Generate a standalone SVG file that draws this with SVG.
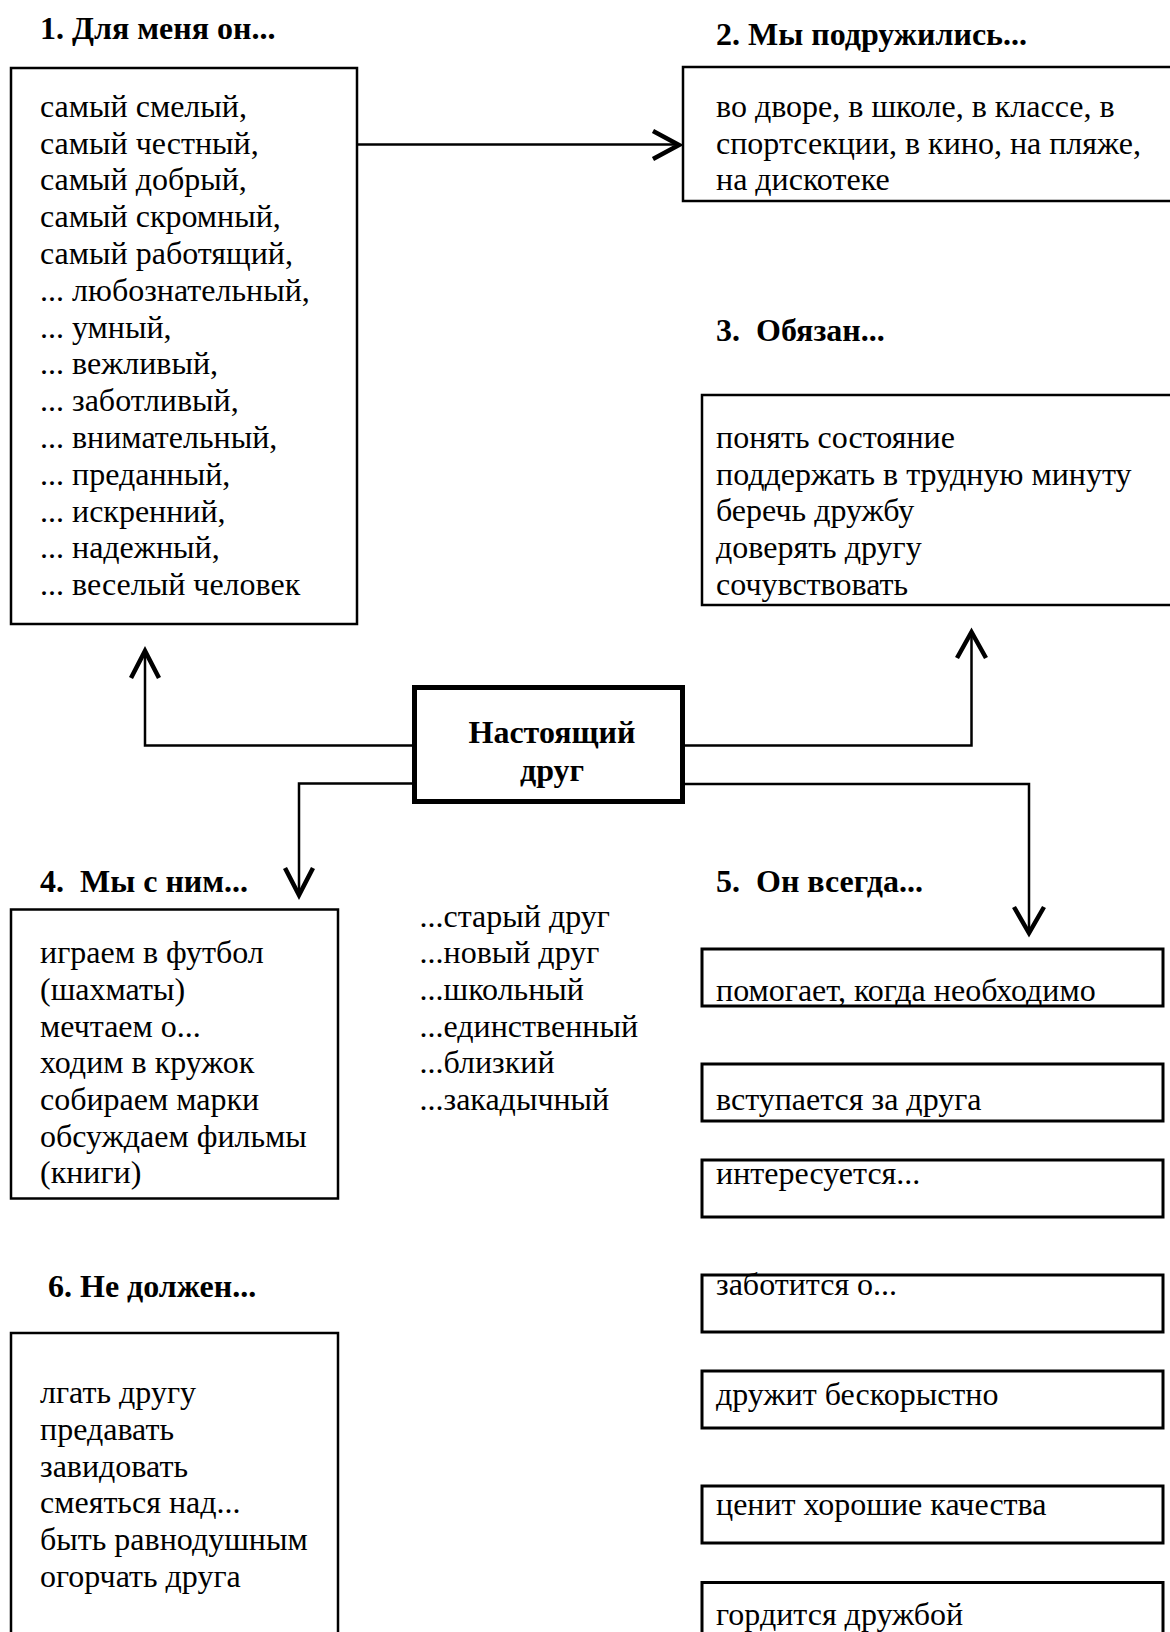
<svg xmlns="http://www.w3.org/2000/svg" width="1170" height="1632" viewBox="0 0 1170 1632">
<style>
.t{font-family:"Liberation Serif","Times New Roman",serif;font-size:32px;fill:#000}
.h{font-family:"Liberation Serif","Times New Roman",serif;font-size:32px;font-weight:bold;fill:#000;white-space:pre}
.box{fill:#fff;stroke:#000;stroke-width:2.5}
.box5{fill:#fff;stroke:#000;stroke-width:3}
.ln{fill:none;stroke:#000;stroke-width:2.5}
.ch{fill:none;stroke:#000;stroke-width:4.5;stroke-linejoin:miter}
</style>
<rect width="1170" height="1632" fill="#fff"/>
<g id="connectors">
<line class="ln" x1="357" y1="144.5" x2="677" y2="144.5"/>
<path class="ch" d="M653,131 L679,145 L653,159"/>
<path class="ln" d="M412,745.5 H145 V651"/>
<path class="ch" d="M131,678 L145,651 L159,678"/>
<path class="ln" d="M412,783.5 H299 V895"/>
<path class="ch" d="M285,868 L299,895 L313,868"/>
<path class="ln" d="M685,745.5 H971.5 V632"/>
<path class="ch" d="M957,658 L971.5,632 L986,658"/>
<path class="ln" d="M685,784 H1029 V933"/>
<path class="ch" d="M1014,907 L1029,933 L1044,907"/>
</g>
<g id="title1"><text class="h" x="40" y="39">1. Для меня он...</text></g>
<g id="box1">
<rect class="box" x="11" y="68" width="346" height="556"/>
<text class="t" x="40" y="116.7">самый смелый,</text>
<text class="t" x="40" y="153.5">самый честный,</text>
<text class="t" x="40" y="190.3">самый добрый,</text>
<text class="t" x="40" y="227.1">самый скромный,</text>
<text class="t" x="40" y="263.9">самый работящий,</text>
<text class="t" x="40" y="300.7">... любознательный,</text>
<text class="t" x="40" y="337.5">... умный,</text>
<text class="t" x="40" y="374.3">... вежливый,</text>
<text class="t" x="40" y="411.1">... заботливый,</text>
<text class="t" x="40" y="447.9">... внимательный,</text>
<text class="t" x="40" y="484.7">... преданный,</text>
<text class="t" x="40" y="521.5">... искренний,</text>
<text class="t" x="40" y="558.3">... надежный,</text>
<text class="t" x="40" y="595.1">... веселый человек</text>
</g>
<g id="title2"><text class="h" x="716" y="44.5">2. Мы подружились...</text></g>
<g id="box2">
<rect class="box" x="683" y="67" width="500" height="134"/>
<text class="t" x="716" y="116.7">во дворе, в школе, в классе, в</text>
<text class="t" x="716" y="153.5">спортсекции, в кино, на пляже,</text>
<text class="t" x="716" y="190.3">на дискотеке</text>
</g>
<g id="title3"><text class="h" x="716" y="341">3.  Обязан...</text></g>
<g id="box3">
<rect class="box" x="702" y="395" width="480" height="210"/>
<text class="t" x="716" y="447.7">понять состояние</text>
<text class="t" x="716" y="484.5">поддержать в трудную минуту</text>
<text class="t" x="716" y="521.3">беречь дружбу</text>
<text class="t" x="716" y="558.1">доверять другу</text>
<text class="t" x="716" y="594.9">сочувствовать</text>
</g>
<g id="center">
<rect x="414.5" y="687.5" width="268" height="114" fill="#fff" stroke="#000" stroke-width="5"/>
<text class="h" x="552" y="742.5" text-anchor="middle">Настоящий</text>
<text class="h" x="552" y="780.5" text-anchor="middle">друг</text>
</g>
<g id="title4"><text class="h" x="40" y="892">4.  Мы с ним...</text></g>
<g id="box4">
<rect class="box" x="11" y="909.5" width="327" height="289"/>
<text class="t" x="40" y="963.3">играем в футбол</text>
<text class="t" x="40" y="1000">(шахматы)</text>
<text class="t" x="40" y="1036.7">мечтаем о...</text>
<text class="t" x="40" y="1073.3">ходим в кружок</text>
<text class="t" x="40" y="1110">собираем марки</text>
<text class="t" x="40" y="1146.7">обсуждаем фильмы</text>
<text class="t" x="40" y="1183.3">(книги)</text>
</g>
<g id="list">
<text class="t" x="419.5" y="926.7">...старый друг</text>
<text class="t" x="419.5" y="963.3">...новый друг</text>
<text class="t" x="419.5" y="1000">...школьный</text>
<text class="t" x="419.5" y="1036.7">...единственный</text>
<text class="t" x="419.5" y="1073.3">...близкий</text>
<text class="t" x="419.5" y="1110">...закадычный</text>
</g>
<g id="title5"><text class="h" x="716" y="891.5">5.  Он всегда...</text></g>
<g id="box5a"><rect class="box5" x="702" y="949" width="461" height="57"/><text class="t" x="716" y="1000.5">помогает, когда необходимо</text></g>
<g id="box5b"><rect class="box5" x="702" y="1064" width="461" height="57"/><text class="t" x="716" y="1110">вступается за друга</text></g>
<g id="box5c"><rect class="box5" x="702" y="1160" width="461" height="57"/><text class="t" x="716" y="1184">интересуется...</text></g>
<g id="box5d"><rect class="box5" x="702" y="1275" width="461" height="57"/><text class="t" x="716" y="1295">заботится о...</text></g>
<g id="box5e"><rect class="box5" x="702" y="1371" width="461" height="57"/><text class="t" x="716" y="1405">дружит бескорыстно</text></g>
<g id="box5f"><rect class="box5" x="702" y="1486" width="461" height="57"/><text class="t" x="716" y="1515">ценит хорошие качества</text></g>
<g id="box5g"><rect class="box5" x="702" y="1582.5" width="461" height="80"/><text class="t" x="716" y="1625">гордится дружбой</text></g>
<g id="title6"><text class="h" x="48" y="1297">6. Не должен...</text></g>
<g id="box6">
<rect class="box" x="11" y="1333" width="327" height="330"/>
<text class="t" x="40" y="1403.3">лгать другу</text>
<text class="t" x="40" y="1440">предавать</text>
<text class="t" x="40" y="1476.7">завидовать</text>
<text class="t" x="40" y="1513.3">смеяться над...</text>
<text class="t" x="40" y="1550">быть равнодушным</text>
<text class="t" x="40" y="1586.7">огорчать друга</text>
</g>
</svg>
